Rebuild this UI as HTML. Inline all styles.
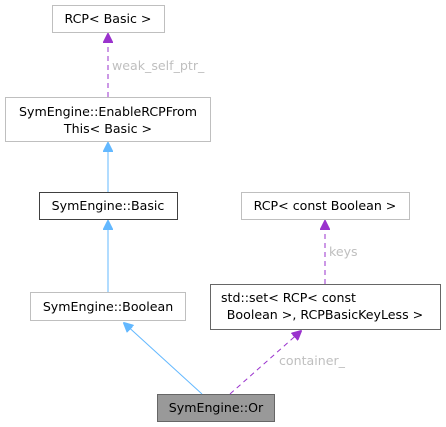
<!DOCTYPE html>
<html><head><style>body{margin:0;background:#fff}svg{display:block}text{font-family:"DejaVu Sans","Liberation Sans",sans-serif;font-size:12.6px;fill:#000}</style></head>
<body>
<svg width="446" height="427" viewBox="0 0 446 427">
<defs>
<marker id="b" markerWidth="10" markerHeight="10" refX="9" refY="5" orient="auto" markerUnits="userSpaceOnUse"><path d="M0,0 L10,5 L0,10 z" fill="#63b8ff" stroke="#63b8ff"/></marker>
<marker id="p" markerWidth="10" markerHeight="10" refX="9" refY="5" orient="auto" markerUnits="userSpaceOnUse"><path d="M0,0 L10,5 L0,10 z" fill="#9a32cd" stroke="#9a32cd"/></marker>
</defs>
<rect x="52.5" y="5.5" width="112" height="27" fill="#fff" stroke="#bfbfbf"/>
<text x="108" y="23" text-anchor="middle">RCP&lt; Basic &gt;</text>
<rect x="5.5" y="97.5" width="205" height="44" fill="#fff" stroke="#bfbfbf"/>
<text x="108" y="116" text-anchor="middle">SymEngine::EnableRCPFrom</text>
<text x="108" y="133" text-anchor="middle">This&lt; Basic &gt;</text>
<rect x="39.5" y="192.5" width="138" height="27" fill="#fff" stroke="#404040"/>
<text x="108" y="210" text-anchor="middle">SymEngine::Basic</text>
<rect x="30.5" y="292.5" width="155" height="28" fill="#fff" stroke="#bfbfbf"/>
<text x="108" y="311" text-anchor="middle">SymEngine::Boolean</text>
<rect x="157.5" y="394.5" width="117" height="27" fill="#999" stroke="#666"/>
<text x="216" y="412" text-anchor="middle">SymEngine::Or</text>
<rect x="241.5" y="192.5" width="168" height="27" fill="#fff" stroke="#bfbfbf"/>
<text x="325" y="210" text-anchor="middle">RCP&lt; const Boolean &gt;</text>
<rect x="210.5" y="284.5" width="230" height="45" fill="#fff" stroke="#666"/>
<text x="221" y="302">std::set&lt; RCP&lt; const</text>
<text x="325" y="319" text-anchor="middle">Boolean &gt;, RCPBasicKeyLess &gt;</text>
<line x1="108" y1="97" x2="108" y2="34" stroke="#9a32cd" stroke-dasharray="5,4" marker-end="url(#p)"/>
<text x="112" y="70" style="fill:#bfbfbf">weak_self_ptr_</text>
<line x1="108" y1="192" x2="108" y2="143" stroke="#63b8ff" marker-end="url(#b)"/>
<line x1="108" y1="292" x2="108" y2="221" stroke="#63b8ff" marker-end="url(#b)"/>
<line x1="202" y1="394" x2="124" y2="323" stroke="#63b8ff" marker-end="url(#b)"/>
<line x1="230" y1="394" x2="301" y2="331" stroke="#9a32cd" stroke-dasharray="5,4" marker-end="url(#p)"/>
<text x="279" y="365" style="fill:#bfbfbf">container_</text>
<line x1="325" y1="284" x2="325" y2="221" stroke="#9a32cd" stroke-dasharray="5,4" marker-end="url(#p)"/>
<text x="329" y="256" style="fill:#bfbfbf">keys</text>
</svg>
</body></html>
